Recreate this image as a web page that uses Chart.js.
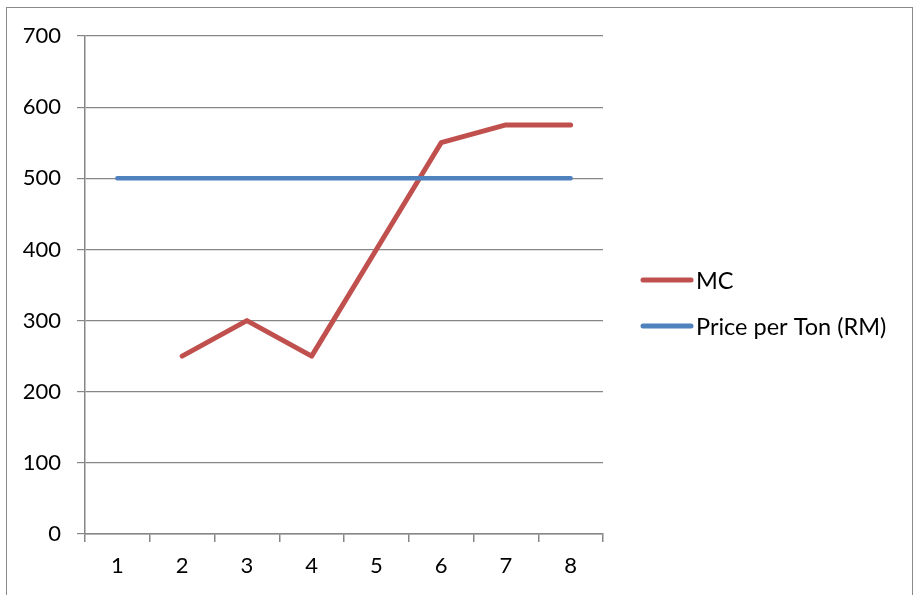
<!DOCTYPE html>
<html>
<head>
<meta charset="utf-8">
<script src="https://cdn.jsdelivr.net/npm/chart.js@4"></script>
<style>
html,body{margin:0;padding:0;background:#fff;overflow:hidden;}
#wrap{position:absolute;left:0;top:0;width:915px;height:595px;}
#frame{position:absolute;left:6px;top:7px;width:907px;height:600px;border:1.5px solid #8a8a8a;box-sizing:border-box;}
canvas{position:absolute;left:0;top:0;}
</style>
</head>
<body>
<div id="wrap">
<div id="frame"></div>
<canvas id="c" width="915" height="595"></canvas>
</div>
<script>
const categories = ['1','2','3','4','5','6','7','8'];
const mcValues = [null, 250, 300, 250, 400, 550, 575, 575];
const priceValues = [500, 500, 500, 500, 500, 500, 500, 500];
const seriesNames = ['MC', 'Price per Ton (RM)'];
const yTicks = {min: 0, max: 700, step: 100};

const FONT = 'Lato, "Open Sans", sans-serif';
const RED = '#C0504D', BLUE = '#4F81BD', GRID = '#868686';

const legendPlugin = {
  id: 'customLegend',
  afterDraw(chart) {
    const ctx = chart.ctx;
    const items = [
      {label: seriesNames[0], color: RED, y: 280},
      {label: seriesNames[1], color: BLUE, y: 326}
    ];
    ctx.save();
    ctx.font = '23.5px ' + FONT;
    ctx.textBaseline = 'middle';
    ctx.fillStyle = '#000';
    items.forEach(it => {
      ctx.strokeStyle = it.color;
      ctx.lineWidth = 5;
      ctx.lineCap = 'round';
      ctx.beginPath();
      ctx.moveTo(643, it.y);
      ctx.lineTo(691, it.y);
      ctx.stroke();
      ctx.fillText(it.label, 696, it.y + 1);
    });
    ctx.restore();
  }
};

new Chart(document.getElementById('c'), {
  type: 'line',
  data: {
    labels: categories,
    datasets: [
      {label: seriesNames[1], data: priceValues, borderColor: BLUE, backgroundColor: BLUE, borderWidth: 4.5, pointRadius: 0, tension: 0, borderCapStyle: 'round', borderJoinStyle: 'round'},
      {label: seriesNames[0], data: mcValues, borderColor: RED, backgroundColor: RED, borderWidth: 5, pointRadius: 0, tension: 0, borderCapStyle: 'round', borderJoinStyle: 'round', spanGaps: false}
    ]
  },
  options: {
    responsive: false,
    animation: false,
    events: [],
    layout: {padding: {left: 0, top: 36, right: 312, bottom: 0}},
    plugins: {legend: {display: false}, tooltip: {enabled: false}},
    scales: {
      x: {
        offset: true,
        grid: {offset: true, drawOnChartArea: false, drawTicks: true, tickLength: 8, color: GRID, lineWidth: 1.5},
        border: {display: true, color: GRID, width: 1.5},
        ticks: {color: '#000', font: {family: FONT, size: 22}, padding: 11, maxRotation: 0},
        afterFit(scale) { scale.height = 61; }
      },
      y: {
        min: yTicks.min, max: yTicks.max,
        grid: {color: GRID, lineWidth: 1.2, drawTicks: true, tickLength: 8},
        border: {display: true, color: GRID, width: 1.5},
        ticks: {stepSize: yTicks.step, color: '#000', font: {family: FONT, size: 22}, padding: 16},
        afterFit(scale) { scale.width = 85; }
      }
    }
  },
  plugins: [legendPlugin]
});
</script>
</body>
</html>
